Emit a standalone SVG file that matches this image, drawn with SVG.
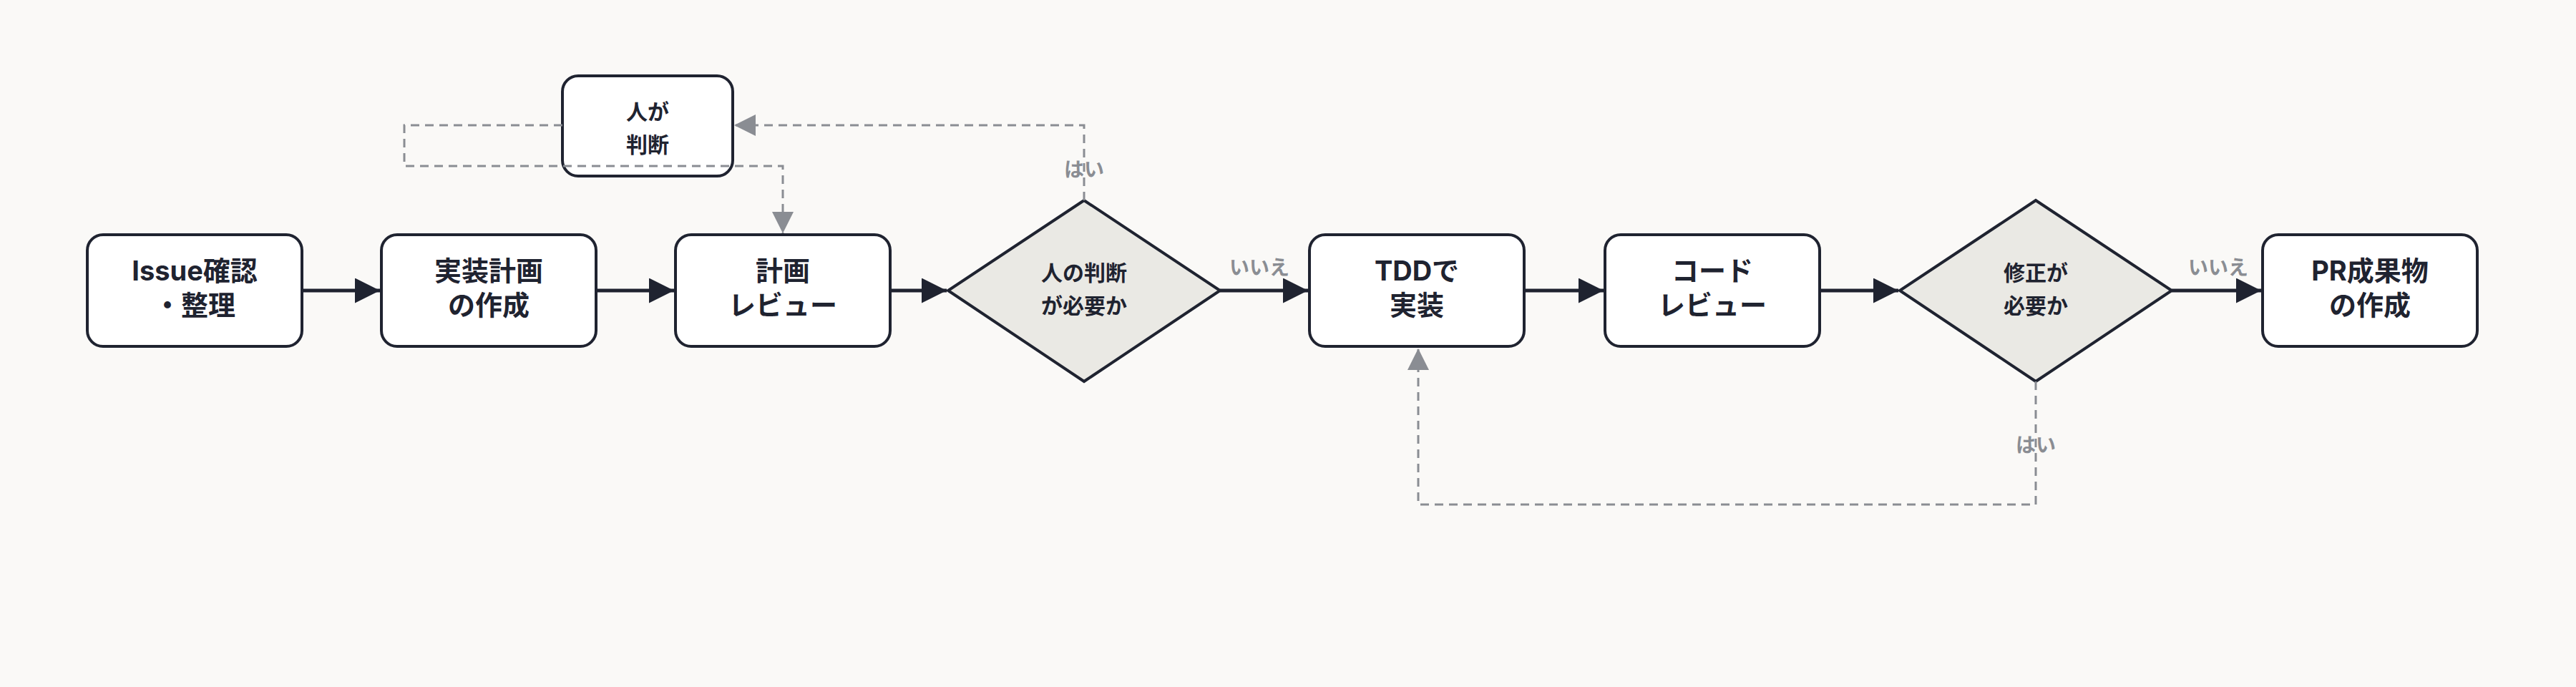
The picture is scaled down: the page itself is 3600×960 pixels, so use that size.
<svg xmlns="http://www.w3.org/2000/svg" width="3600" height="960" viewBox="0 0 3600 960">
<defs>
<style>
.n{fill:#fff;stroke:#1f2330;stroke-width:4}
.d{fill:#eae9e4;stroke:#1f2330;stroke-width:4}
.t{font-family:Inter,"Noto Sans CJK JP",sans-serif;font-weight:700;font-size:38px;fill:#1f2330;text-anchor:middle}
.ts{font-family:Inter,"Noto Sans CJK JP",sans-serif;font-weight:700;font-size:30px;fill:#1f2330;text-anchor:middle}
.l{font-family:Inter,"Noto Sans CJK JP",sans-serif;font-weight:700;font-size:28px;fill:#8a8d93;text-anchor:middle}
.c{fill:none;stroke:#1f2330;stroke-width:5}
.dc{fill:none;stroke:#8a8d93;stroke-width:3;stroke-dasharray:12 8}
</style>
<marker id="a" viewBox="0 0 10 10" refX="10" refY="5" markerWidth="7" markerHeight="7" markerUnits="strokeWidth" orient="auto"><path d="M0,0L10,5L0,10z" fill="#1f2330"/></marker>
<marker id="g" viewBox="0 0 10 10" refX="10" refY="5" markerWidth="10" markerHeight="10" markerUnits="strokeWidth" orient="auto"><path d="M0,0L10,5L0,10z" fill="#8a8d93"/></marker>
</defs>
<rect width="3600" height="960" fill="#faf9f7"/>
<g id="n1"><rect class="n" x="122" y="328" width="300" height="156" rx="22"/><text class="t" x="272" y="392">Issue確認</text><text class="t" x="272" y="440">・整理</text></g>
<g id="n2"><rect class="n" x="533" y="328" width="300" height="156" rx="22"/><text class="t" x="683" y="392">実装計画</text><text class="t" x="683" y="440">の作成</text></g>
<g id="n3"><rect class="n" x="944" y="328" width="300" height="156" rx="22"/><text class="t" x="1094" y="392">計画</text><text class="t" x="1094" y="440">レビュー</text></g>
<g id="d1"><polygon class="d" points="1515,280 1705,406 1515,533 1325,406"/><text class="ts" x="1515" y="392">人の判断</text><text class="ts" x="1515" y="438">が必要か</text></g>
<g id="h"><rect class="n" x="786" y="106" width="238" height="140" rx="22"/><text class="ts" x="905" y="167">人が</text><text class="ts" x="905" y="213">判断</text></g>
<g id="n4"><rect class="n" x="1830" y="328" width="300" height="156" rx="22"/><text class="t" x="1980" y="392">TDDで</text><text class="t" x="1980" y="440">実装</text></g>
<g id="n5"><rect class="n" x="2243" y="328" width="300" height="156" rx="22"/><text class="t" x="2393" y="392">コード</text><text class="t" x="2393" y="440">レビュー</text></g>
<g id="d2"><polygon class="d" points="2845,280 3035,406 2845,533 2655,406"/><text class="ts" x="2845" y="392">修正が</text><text class="ts" x="2845" y="438">必要か</text></g>
<g id="n6"><rect class="n" x="3162" y="328" width="300" height="156" rx="22"/><text class="t" x="3312" y="392">PR成果物</text><text class="t" x="3312" y="440">の作成</text></g>
<g id="connectors">
<path class="c" marker-end="url(#a)" d="M422,406H531"/>
<path class="c" marker-end="url(#a)" d="M833,406H942"/>
<path class="c" marker-end="url(#a)" d="M1244,406H1323"/>
<path class="c" marker-end="url(#a)" d="M1705,406H1828"/>
<path class="c" marker-end="url(#a)" d="M2130,406H2241"/>
<path class="c" marker-end="url(#a)" d="M2543,406H2653"/>
<path class="c" marker-end="url(#a)" d="M3035,406H3160"/>
<path class="dc" marker-end="url(#g)" d="M1515,280V175H1026"/>
<path class="dc" marker-end="url(#g)" d="M786,175H565V232H1094V326"/>
<path class="dc" marker-end="url(#g)" d="M2845,533V705H1982V487"/>
<text class="l" x="1515" y="247">はい</text>
<text class="l" x="1760" y="384">いいえ</text>
<text class="l" x="2845" y="632">はい</text>
<text class="l" x="3100" y="384">いいえ</text>
</g>
</svg>
